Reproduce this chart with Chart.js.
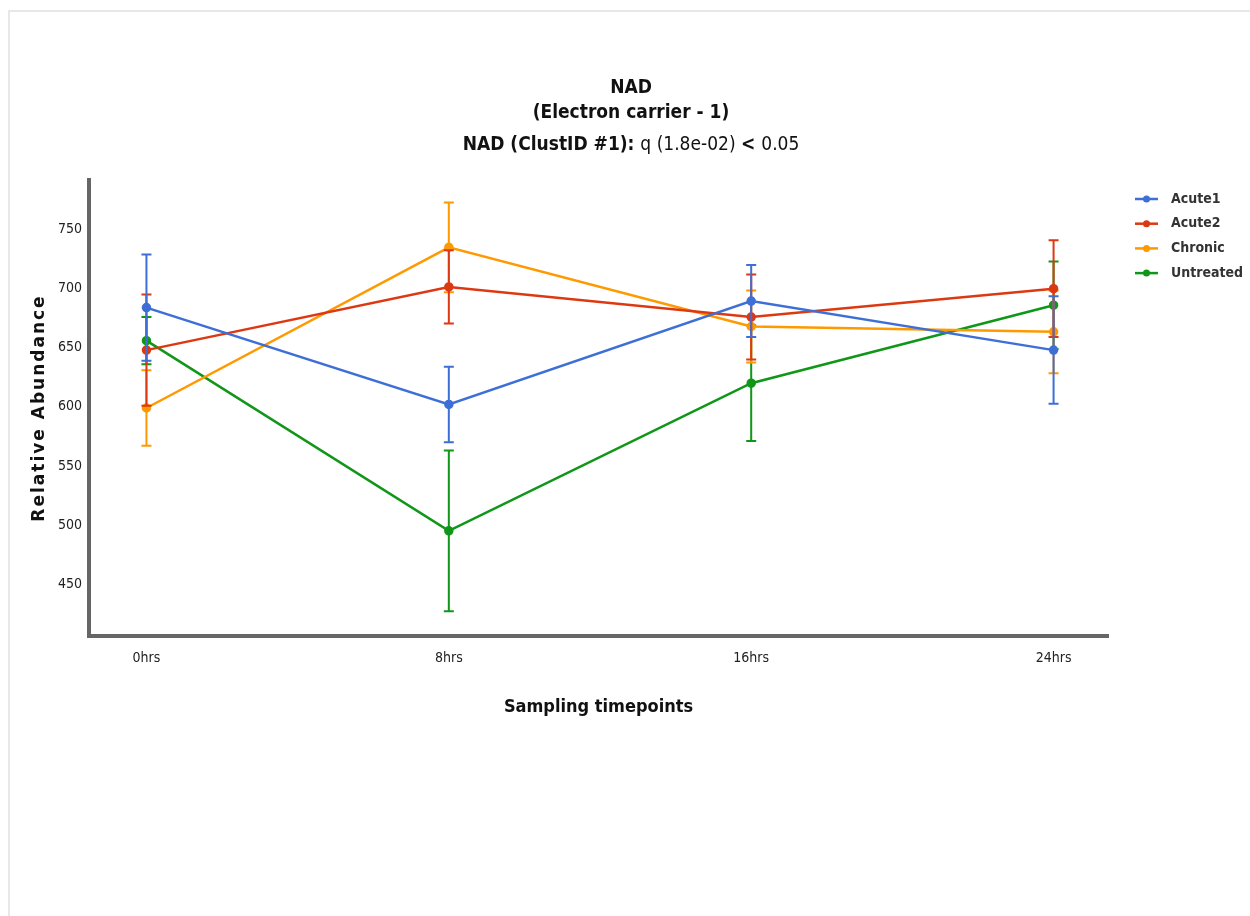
<!DOCTYPE html>
<html>
<head>
<meta charset="utf-8">
<script src="https://cdn.jsdelivr.net/npm/chart.js@4"></script>
<style>
  body { margin: 0; background: #fff; }
  #frame {
    position: absolute; left: 8px; top: 10px; width: 1250px; height: 910px;
    border-left: 2px solid #e8e8e8; border-top: 2px solid #e8e8e8;
  }
  #wrap { position: absolute; left: 0; top: 0; width: 1250px; height: 916px; }
</style>
</head>
<body>
<div id="frame"></div>
<div id="wrap"><canvas id="chart"></canvas></div>
<script>
// data
const timepoints = ["0hrs", "8hrs", "16hrs", "24hrs"];
const seriesNames = ["Acute1", "Acute2", "Chronic", "Untreated"];
const acute1 = [684, 602, 689.5, 648];
const acute1Err = [45, 32, 30.5, 45.5];
const acute2 = [648, 701.5, 676, 700];
const acute2Err = [47, 31, 36, 41];
const chronic = [599, 735, 668, 663.5];
const chronicErr = [32, 38, 30.5, 35];
const untreated = [656, 495, 620, 686];
const untreatedErr = [20, 68, 49, 37];
const yTicks = [450, 500, 550, 600, 650, 700, 750];

const titleLine1 = "NAD";
const titleLine2 = "(Electron carrier - 1)";
const titleLine3 = [
  { text: "NAD (ClustID #1): ", bold: true },
  { text: "q (1.8e-02) ", bold: false },
  { text: "< ", bold: true },
  { text: "0.05", bold: false }
];
const yTitle = "Relative Abundance";

const colors = ["#3d6fd6", "#dc3912", "#ff9900", "#109618"];
const cond = "'DejaVu Sans Condensed', 'Liberation Sans Narrow', sans-serif";

const values = [acute1, acute2, chronic, untreated];
const errors = [acute1Err, acute2Err, chronicErr, untreatedErr];

const datasets = seriesNames.map((name, i) => ({
  label: name,
  data: values[i].map((v, j) => ({ x: j, y: v })),
  err: errors[i],
  borderColor: colors[i],
  backgroundColor: colors[i],
  borderWidth: 2.5,
  pointRadius: 3.5,
  pointHoverRadius: 4,
  tension: 0,
  clip: false
}));

// vertical error bars with caps, drawn after each line
const errorBars = {
  id: "errorBars",
  afterDatasetDraw(chart, args) {
    const ds = chart.data.datasets[args.index];
    const ctx = chart.ctx;
    const xs = chart.scales.x, ys = chart.scales.y;
    ctx.save();
    ctx.strokeStyle = ds.borderColor;
    ctx.lineWidth = 2;
    ds.data.forEach((p, j) => {
      const px = xs.getPixelForValue(p.x);
      const top = ys.getPixelForValue(p.y + ds.err[j]);
      const bot = ys.getPixelForValue(p.y - ds.err[j]);
      ctx.beginPath();
      ctx.moveTo(px, top); ctx.lineTo(px, bot);
      ctx.moveTo(px - 5, top); ctx.lineTo(px + 5, top);
      ctx.moveTo(px - 5, bot); ctx.lineTo(px + 5, bot);
      ctx.stroke();
    });
    ctx.restore();
  }
};

// three line title (last line mixes bold and normal) and the y axis title
const titlePlugin = {
  id: "titlePlugin",
  afterDraw(chart) {
    const ctx = chart.ctx;
    const cx = 631;
    ctx.save();
    ctx.fillStyle = "#111";
    ctx.textBaseline = "middle";
    ctx.textAlign = "center";
    ctx.font = "bold 19px " + cond;
    ctx.fillText(titleLine1, cx, 88);
    ctx.fillText(titleLine2, cx, 113);
    ctx.textAlign = "left";
    let total = 0;
    titleLine3.forEach(s => {
      ctx.font = (s.bold ? "bold " : "") + "19px " + cond;
      total += ctx.measureText(s.text).width;
    });
    let x = cx - total / 2;
    titleLine3.forEach(s => {
      ctx.font = (s.bold ? "bold " : "") + "19px " + cond;
      ctx.fillText(s.text, x, 145);
      x += ctx.measureText(s.text).width;
    });

    // y title, a little letter-spaced like the original
    const a = chart.chartArea;
    ctx.translate(40, (a.top + a.bottom) / 2);
    ctx.rotate(-Math.PI / 2);
    ctx.font = "bold 17px 'DejaVu Sans', sans-serif";
    ctx.letterSpacing = "2px";
    ctx.textAlign = "center";
    ctx.fillText(yTitle, 0, 0);
    ctx.restore();
  }
};

// legend on the right: line with a dot, bold label
const legendPlugin = {
  id: "legendPlugin",
  afterDraw(chart) {
    const ctx = chart.ctx;
    ctx.save();
    chart.data.datasets.forEach((ds, i) => {
      const y = 199 + i * 24.7;
      ctx.strokeStyle = ds.borderColor;
      ctx.fillStyle = ds.borderColor;
      ctx.lineWidth = 2.5;
      ctx.beginPath();
      ctx.moveTo(1135, y); ctx.lineTo(1158, y);
      ctx.stroke();
      ctx.beginPath();
      ctx.arc(1146.5, y, 3.5, 0, Math.PI * 2);
      ctx.fill();
      ctx.fillStyle = "#333";
      ctx.font = "bold 14px " + cond;
      ctx.textBaseline = "middle";
      ctx.fillText(ds.label, 1171, y);
    });
    ctx.restore();
  }
};

new Chart(document.getElementById("chart"), {
  type: "line",
  data: { datasets },
  plugins: [errorBars, titlePlugin, legendPlugin],
  options: {
    responsive: true,
    maintainAspectRatio: false,
    animation: false,
    layout: { padding: { top: 180, right: 142, bottom: 198, left: 0 } },
    plugins: {
      legend: { display: false },
      title: { display: false },
      tooltip: { enabled: false }
    },
    scales: {
      x: {
        type: "linear",
        min: -0.19,
        max: 3.18,
        afterBuildTicks(scale) { scale.ticks = timepoints.map((t, i) => ({ value: i })); },
        afterFit(scale) { scale.height = 82; },
        grid: { display: false, drawTicks: false },
        border: { display: true, color: "#666", width: 4 },
        ticks: {
          padding: 14,
          color: "#222",
          font: { family: cond, size: 14 },
          callback: (v) => timepoints[v]
        },
        title: {
          display: true,
          text: "Sampling timepoints",
          color: "#111",
          font: { family: cond, size: 18, weight: "bold" },
          padding: { top: 0, bottom: 0 }
        }
      },
      y: {
        min: 406,
        max: 792,
        afterBuildTicks(scale) { scale.ticks = yTicks.map(v => ({ value: v })); },
        afterFit(scale) { scale.width = 89; },
        grid: { display: false, drawTicks: false },
        border: { display: true, color: "#666", width: 4 },
        ticks: {
          padding: 7,
          color: "#222",
          font: { family: cond, size: 14 }
        },
        title: { display: false }
      }
    }
  }
});
</script>
</body>
</html>
